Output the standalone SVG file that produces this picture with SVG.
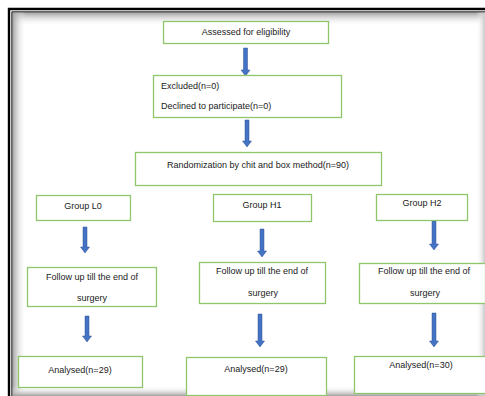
<svg xmlns="http://www.w3.org/2000/svg" width="485" height="396" viewBox="0 0 485 396">
<defs>
<linearGradient id="gTop" x1="0" y1="0" x2="0" y2="1">
<stop offset="0" stop-color="#9a9a9a"/>
<stop offset="1" stop-color="#ffffff" stop-opacity="0"/>
</linearGradient>
<linearGradient id="gLeft" x1="0" y1="0" x2="1" y2="0">
<stop offset="0" stop-color="#9a9a9a"/>
<stop offset="1" stop-color="#ffffff" stop-opacity="0"/>
</linearGradient>
<linearGradient id="gBot" x1="0" y1="0" x2="0" y2="1">
<stop offset="0" stop-color="#ffffff" stop-opacity="0"/>
<stop offset="1" stop-color="#a0a0a0"/>
</linearGradient>
<linearGradient id="gRight" x1="0" y1="0" x2="1" y2="0">
<stop offset="0" stop-color="#ffffff" stop-opacity="0"/>
<stop offset="1" stop-color="#c8c8c8"/>
</linearGradient>
</defs>
<style>
.box{fill:#ffffff;stroke:#8ec66b;stroke-width:1.3}
.t{font-family:"Liberation Sans",Arial,sans-serif;font-size:9px;fill:#1a1a1a}
.m{text-anchor:middle}
.arr{fill:#4472c4;stroke:#2f5597;stroke-width:0.5}
</style>
<rect width="485" height="396" fill="#ffffff"/>
<g id="frame">
<rect x="12" y="12" width="473" height="14" fill="url(#gTop)"/>
<rect x="12" y="12" width="14" height="384" fill="url(#gLeft)"/>
<rect x="12" y="386" width="473" height="10" fill="url(#gBot)"/>
<rect x="476" y="12" width="9" height="384" fill="url(#gRight)"/>
<path d="M9 396 V9 H485" fill="none" stroke="#000" stroke-width="2.4"/>
<path d="M11.8 396 V11.8 H485" fill="none" stroke="#222" stroke-width="1"/>
</g>
<g id="connectors">
<path class="arr" d="M243.5 48 H247.5 V70 H250 L245.5 76 L241 70 H243.5 Z"/>
<path class="arr" d="M245 120 H249 V141 H251.5 L247 147 L242.5 141 H245 Z"/>
<path class="arr" d="M83 227 H87 V247 H89.5 L85 253 L80.5 247 H83 Z"/>
<path class="arr" d="M260 229 H264 V251 H266.5 L262 257 L257.5 251 H260 Z"/>
<path class="arr" d="M432 221 H436 V244 H438.5 L434 250 L429.5 244 H432 Z"/>
<path class="arr" d="M85 316 H89 V336 H91.5 L87 342 L82.5 336 H85 Z"/>
<path class="arr" d="M258 314 H262 V341 H264.5 L260 347 L255.5 341 H258 Z"/>
<path class="arr" d="M432 313 H436 V341 H438.5 L434 347 L429.5 341 H432 Z"/>
</g>
<g id="assessed">
<rect class="box" x="163.5" y="21.5" width="165" height="22"/>
<text class="t m" x="246" y="35">Assessed for eligibility</text>
</g>
<g id="excluded">
<rect class="box" x="153.5" y="75.5" width="188" height="42"/>
<text class="t" x="161" y="89">Excluded(n=0)</text>
<text class="t" x="161" y="109">Declined to participate(n=0)</text>
</g>
<g id="randomization">
<rect class="box" x="135.5" y="152.5" width="246" height="33"/>
<text class="t m" x="258" y="168">Randomization by chit and box method(n=90)</text>
</g>
<g id="groupL0">
<rect class="box" x="36.5" y="195.5" width="94" height="25"/>
<text class="t m" x="83" y="209">Group L0</text>
</g>
<g id="groupH1">
<rect class="box" x="213.5" y="194.5" width="98" height="27"/>
<text class="t m" x="262" y="208">Group H1</text>
</g>
<g id="groupH2">
<rect class="box" x="376.5" y="194.5" width="91" height="26"/>
<text class="t m" x="422" y="206">Group H2</text>
</g>
<g id="followL0">
<rect class="box" x="27.5" y="267.5" width="129" height="39"/>
<text class="t m" x="92" y="280">Follow up till the end of</text>
<text class="t m" x="92" y="301">surgery</text>
</g>
<g id="followH1">
<rect class="box" x="199.5" y="262.5" width="126" height="41"/>
<text class="t m" x="262" y="274">Follow up till the end of</text>
<text class="t m" x="263" y="296">surgery</text>
</g>
<g id="followH2">
<rect class="box" x="359.5" y="263.5" width="126" height="40"/>
<text class="t m" x="424" y="274">Follow up till the end of</text>
<text class="t m" x="425" y="296">surgery</text>
</g>
<g id="analysedL0">
<rect class="box" x="18.5" y="356.5" width="124" height="31"/>
<text class="t m" x="80" y="373">Analysed(n=29)</text>
</g>
<g id="analysedH1">
<rect class="box" x="186.5" y="357.5" width="140" height="38"/>
<text class="t m" x="256" y="372">Analysed(n=29)</text>
</g>
<g id="analysedH2">
<rect class="box" x="354.5" y="356.5" width="132" height="37"/>
<text class="t m" x="421" y="368">Analysed(n=30)</text>
</g>
</svg>
